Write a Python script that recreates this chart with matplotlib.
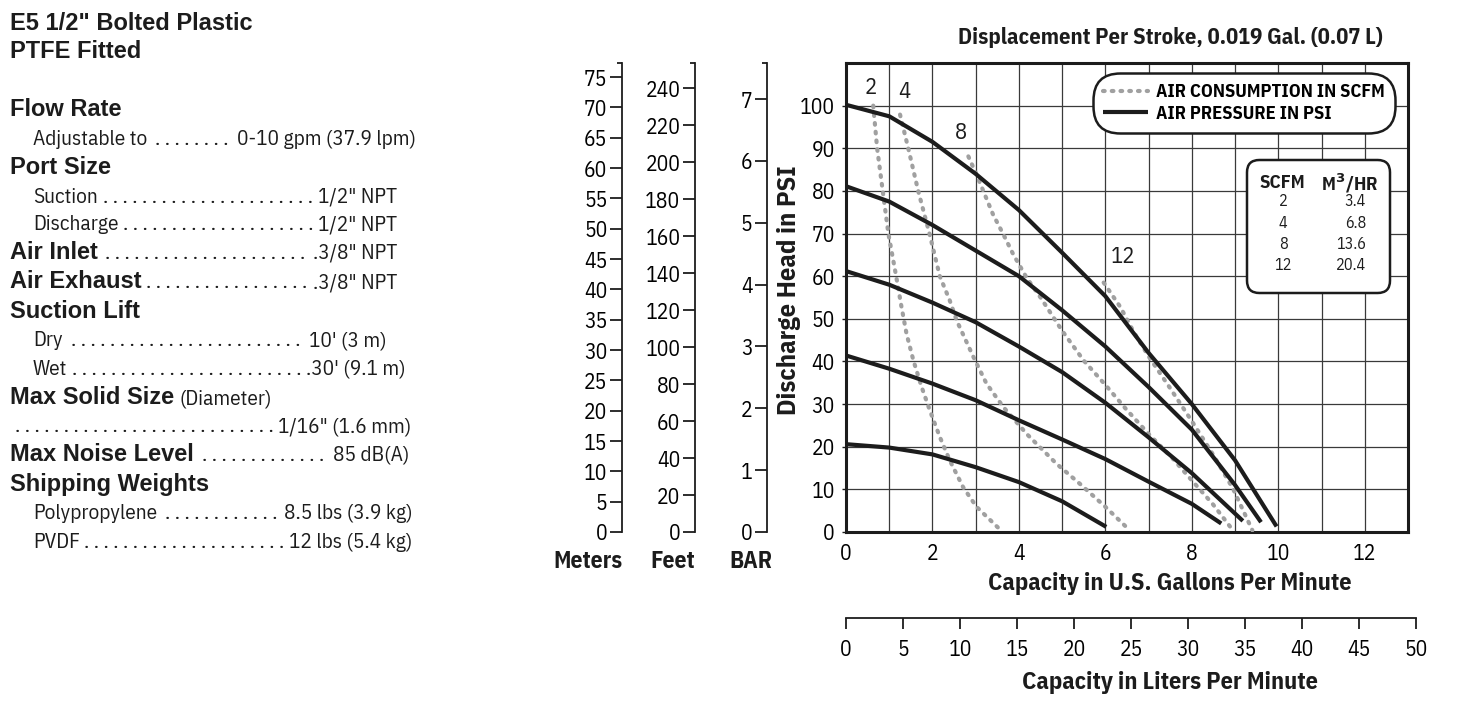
import matplotlib
matplotlib.use("Agg")
import matplotlib.pyplot as plt
from matplotlib import font_manager
from matplotlib.font_manager import FontProperties
from matplotlib.patches import FancyBboxPatch

# ---------------------------------------------------------- #
#  Data                              #
# ---------------------------------------------------------- #
# air pressure curves (solid): capacity in gpm vs discharge head in psi
GPM_100PSI = [0, 1, 2, 3, 4, 5, 6, 7, 8, 9, 9.96]
HEAD_100PSI = [100.2, 97.5, 91.5, 84, 75.5, 65.5, 55.3, 42, 30, 16.8, 1.3]
GPM_80PSI = [0, 1, 2, 3, 4, 5, 6, 7, 8, 9, 9.6]
HEAD_80PSI = [81.1, 77.5, 72, 66, 60, 52, 43.5, 34, 24, 11, 2.3]
GPM_60PSI = [0, 1, 2, 3, 4, 5, 6, 7, 8, 9.18]
HEAD_60PSI = [61.2, 58, 53.8, 49.2, 43.5, 37.5, 30.3, 22.2, 13.8, 2.6]
GPM_40PSI = [0, 1, 2, 3, 4, 5, 6, 7, 8, 8.68]
HEAD_40PSI = [41.4, 38.3, 34.8, 30.9, 26.2, 21.7, 17.1, 11.8, 6.6, 2.0]
GPM_20PSI = [0, 1, 2, 3, 4, 5, 6.02]
HEAD_20PSI = [20.6, 19.8, 18.2, 15.2, 11.7, 7.2, 1.2]

# air consumption curves (dotted)
GPM_2SCFM = [0.63, 0.72, 0.85, 0.98, 1.16, 1.28, 1.4, 1.56, 1.75, 1.94, 2.17, 2.4, 2.71, 3.02, 3.52]
HEAD_2SCFM = [100, 90, 80, 70, 60, 53, 46.5, 40.2, 34, 28.5, 22.3, 16.8, 10.5, 5.9, 1.0]
GPM_4SCFM = [1.25, 1.44, 1.67, 1.93, 2.17, 2.4, 2.56, 2.95, 3.25, 3.64, 4.18, 4.87, 5.41, 6.0, 6.48]
HEAD_4SCFM = [97.9, 90, 80, 70, 60, 54.3, 49.6, 41, 34.8, 29.3, 23, 16, 11.3, 5.9, 1.2]
GPM_8SCFM = [2.83, 3.02, 3.4, 3.64, 3.87, 4.18, 4.5, 5, 5.5, 6, 6.48, 7, 7.56, 8, 8.48, 8.95]
HEAD_8SCFM = [88.1, 83.8, 74.5, 69.8, 65.1, 59.6, 55, 47.2, 40.2, 34.5, 28.8, 23, 17.2, 12.1, 6.6, 0.4]
GPM_12SCFM = [5.96, 6.35, 6.65, 7, 7.48, 8, 8.5, 8.95, 9.4]
HEAD_12SCFM = [58.5, 52.7, 47, 41.2, 34, 26, 18, 10.2, 0.4]

PRESSURE_CURVES = [(GPM_100PSI, HEAD_100PSI), (GPM_80PSI, HEAD_80PSI), (GPM_60PSI, HEAD_60PSI),
                   (GPM_40PSI, HEAD_40PSI), (GPM_20PSI, HEAD_20PSI)]
AIR_CURVES = [(GPM_2SCFM, HEAD_2SCFM), (GPM_4SCFM, HEAD_4SCFM),
              (GPM_8SCFM, HEAD_8SCFM), (GPM_12SCFM, HEAD_12SCFM)]

# scfm tags on the dotted curves
SCFM_TAGS = ["2", "4", "8", "12"]
TAG_GPM = [0.57, 1.36, 2.65, 6.42]
TAG_HEAD = [104.1, 103.2, 93.6, 64.4]

# conversion table
TABLE_SCFM = ["2", "4", "8", "12"]
TABLE_M3HR = ["3.4", "6.8", "13.6", "20.4"]

# axis ticks
GPM_TICKS = [0, 2, 4, 6, 8, 10, 12]
PSI_TICKS = [0, 10, 20, 30, 40, 50, 60, 70, 80, 90, 100]
LPM_TICKS = [0, 5, 10, 15, 20, 25, 30, 35, 40, 45, 50]
METER_TICKS = [0, 5, 10, 15, 20, 25, 30, 35, 40, 45, 50, 55, 60, 65, 70, 75]
FEET_TICKS = [0, 20, 40, 60, 80, 100, 120, 140, 160, 180, 200, 220, 240]
BAR_TICKS = [0, 1, 2, 3, 4, 5, 6, 7]

PSI_MAX = 110
GPM_MAX = 13
M_PER_PSI = 0.70307
FT_PER_PSI = 2.3067
BAR_PER_PSI = 0.0689476

TITLE_LINES = ['E5 1/2" Bolted Plastic', 'PTFE Fitted']
# (y px, x px, label, label bold, value, value right edge px, dotted leader)
SPEC_LINES = [
    (108, 10, "Flow Rate", True, "", None, False),
    (137, 33, "Adjustable to", False, "0-10 gpm (37.9 lpm)", 416, True),
    (166, 10, "Port Size", True, "", None, False),
    (195, 33, "Suction", False, '1/2" NPT', 397, True),
    (222, 33, "Discharge", False, '1/2" NPT', 397, True),
    (251, 10, "Air Inlet", True, '.3/8" NPT', 397, True),
    (280, 10, "Air Exhaust", True, '.3/8" NPT', 397, True),
    (310, 10, "Suction Lift", True, "", None, False),
    (338, 33, "Dry", False, "10' (3 m)", 386, True),
    (367, 33, "Wet", False, ".30' (9.1 m)", 406, True),
    (396, 10, "Max Solid Size", True, "(Diameter)", None, False),
    (424, 10, "", False, '1/16" (1.6 mm)', 411, True),
    (453, 10, "Max Noise Level", True, "85 dB(A)", 409, True),
    (483, 10, "Shipping Weights", True, "", None, False),
    (511, 33, "Polypropylene", False, "8.5 lbs (3.9 kg)", 413, True),
    (540, 33, "PVDF", False, "12 lbs (5.4 kg)", 412, True),
]

# ---------------------------------------------------------- #
#  Fonts                                                     #
# ---------------------------------------------------------- #
# a narrow sans with a real bold face, first one that is installed
CANDIDATES = ["Liberation Sans Narrow", "IBM Plex Sans Condensed", "PT Sans Narrow",
              "Fira Sans Condensed"]
COND = "Liberation Sans"
for c in CANDIDATES:
    try:
        bld = font_manager.findfont(FontProperties(family=c, weight="bold"), fallback_to_default=False)
    except ValueError:
        continue
    if "bold" in bld.lower():
        COND = c
        break
CONDF = [COND, "DejaVu Sans"]
WIDE = ["Liberation Sans", "DejaVu Sans"]
plt.rcParams["font.family"] = CONDF

W, H = 1463, 706
INK = "#1c1c1c"
DOT = "#a0a0a0"


def fx(px):
    return px / W


def fy(py):
    return 1 - py / H


fig = plt.figure(figsize=(W / 100, H / 100), dpi=100)
fig.patch.set_facecolor("white")
renderer = fig.canvas.get_renderer()


def fit_size(text, target_px, weight="normal", family=None):
    """font size that makes text about target_px wide"""
    t = fig.text(0, 0, text, fontsize=10, fontweight=weight, family=family or CONDF)
    w = t.get_window_extent(renderer).width
    t.remove()
    return 10 * target_px / w


TICK = fit_size("100", 35)
SPEC = fit_size("Adjustable to", 114)
LABEL = fit_size("Capacity in U.S. Gallons Per Minute", 364, "bold")

# ---------------------------------------------------------- #
#  Main chart                                                #
# ---------------------------------------------------------- #
AX_L, AX_R, AX_T, AX_B = 846, 1408, 63, 532
ax = fig.add_axes([fx(AX_L), fy(AX_B), (AX_R - AX_L) / W, (AX_B - AX_T) / H])
ax.set_xlim(0, GPM_MAX)
ax.set_ylim(0, PSI_MAX)
ax.set_xticks(GPM_TICKS)
ax.set_xticks(range(0, GPM_MAX + 1), minor=True)
ax.set_yticks(PSI_TICKS)
ax.grid(True, which="both", color="#3a3a3a", linewidth=0.9)
ax.set_axisbelow(True)
ax.tick_params(axis="x", which="both", length=0, pad=8, labelsize=TICK)
ax.tick_params(axis="y", length=3, width=1, pad=5, labelsize=TICK, color=INK)
for s in ax.spines.values():
    s.set_linewidth(2.2)
    s.set_color(INK)

for gpm, head in PRESSURE_CURVES:
    solid, = ax.plot(gpm, head, color=INK, linewidth=3.0, solid_capstyle="butt",
                     solid_joinstyle="round", zorder=4)
for gpm, head in AIR_CURVES:
    dotted, = ax.plot(gpm, head, color=DOT, linewidth=3.0, linestyle=(0, (0.4, 1.7)),
                      dash_capstyle="round", zorder=3)

for tag, g, h in zip(SCFM_TAGS, TAG_GPM, TAG_HEAD):
    ax.text(g, h, tag, ha="center", va="center", fontsize=TICK * 1.05, color=INK, zorder=5)

ax.set_xlabel("Capacity in U.S. Gallons Per Minute", fontsize=LABEL, fontweight="bold", color=INK)
ax.xaxis.set_label_coords((1170 - AX_L) / (AX_R - AX_L), -(572 - AX_B) / (AX_B - AX_T))
ax.set_ylabel("Discharge Head in PSI", fontsize=fit_size("Discharge Head in PSI", 250, "bold"),
              fontweight="bold", color=INK)
ax.yaxis.set_label_coords(-(AX_L - 801) / (AX_R - AX_L), (AX_B - 290) / (AX_B - AX_T))

LEG = fit_size("AIR CONSUMPTION IN SCFM", 230, "bold")
leg = ax.legend([dotted, solid], ["AIR CONSUMPTION IN SCFM", "AIR PRESSURE IN PSI"],
                loc="upper right", bbox_to_anchor=((1395 - AX_L) / (AX_R - AX_L), (AX_B - 73) / (AX_B - AX_T)),
                borderaxespad=0, borderpad=0.55, labelspacing=0.2, handlelength=2.4, handletextpad=0.45,
                prop={"family": CONDF, "weight": "bold", "size": LEG},
                framealpha=1, fancybox=True)
leg.get_frame().set_boxstyle("round,pad=0,rounding_size=1.45")
leg.get_frame().set_edgecolor(INK)
leg.get_frame().set_linewidth(1.8)
leg.set_zorder(6)

# scfm -> m3/hr table
axw, axh = AX_R - AX_L, AX_B - AX_T
tx0, tx1, ty0, ty1 = 1247, 1390, 160, 293
box = FancyBboxPatch(((tx0 - AX_L) / axw, (AX_B - ty1) / axh), (tx1 - tx0) / axw, (ty1 - ty0) / axh,
                     boxstyle="round,pad=0,rounding_size=0.022", mutation_aspect=axw / axh,
                     transform=ax.transAxes, facecolor="white", edgecolor=INK, linewidth=1.8, zorder=6)
ax.add_patch(box)
HEAD_FS = fit_size("SCFM", 46, "bold")
CELL_FS = fit_size("20.4", 30)
ax.text((1282 - AX_L) / axw, (AX_B - 183) / axh, "SCFM", transform=ax.transAxes, ha="center",
        va="center", fontsize=HEAD_FS, fontweight="bold", color=INK, zorder=7)
ax.text((1350 - AX_L) / axw, (AX_B - 183) / axh, "M$^{\\mathbf{3}}$/HR", transform=ax.transAxes,
        ha="center", va="center", fontsize=HEAD_FS, fontweight="bold", color=INK, zorder=7)
for i, (s, m) in enumerate(zip(TABLE_SCFM, TABLE_M3HR)):
    yy = (AX_B - (201 + i * 21.5)) / axh
    ax.text((1283 - AX_L) / axw, yy, s, transform=ax.transAxes, ha="center", va="center",
            fontsize=CELL_FS, color=INK, zorder=7)
    ax.text((1366 - AX_L) / axw, yy, m, transform=ax.transAxes, ha="right", va="center",
            fontsize=CELL_FS, color=INK, zorder=7)

title = "Displacement Per Stroke, 0.019 Gal. (0.07 L)"
fig.text(fx(1170), fy(38), title, ha="center", va="center",
         fontsize=fit_size(title, 425, "bold"), fontweight="bold", color=INK)

# ---------------------------------------------------------- #
#  Liters per minute scale                                   #
# ---------------------------------------------------------- #
axl = fig.add_axes([fx(AX_L), fy(618), (1416 - AX_L) / W, 0.0001])
axl.set_xlim(0, 50)
axl.set_xticks(LPM_TICKS)
axl.set_yticks([])
for s in ["top", "left", "right"]:
    axl.spines[s].set_visible(False)
axl.spines["bottom"].set_linewidth(1.3)
axl.spines["bottom"].set_color(INK)
axl.tick_params(axis="x", direction="out", length=8, width=1.3, pad=7, labelsize=TICK, color=INK)
axl.patch.set_visible(False)
lpm_label = "Capacity in Liters Per Minute"
fig.text(fx(1170), fy(682), lpm_label, ha="center", va="center",
         fontsize=fit_size(lpm_label, 296, "bold"), fontweight="bold", color=INK)

# ---------------------------------------------------------- #
#  Meters / Feet / BAR scales                                #
# ---------------------------------------------------------- #
UNIT_FS = fit_size("Meters", 69, "bold")


def unit_axis(x_px, top, ticks, name, name_x):
    a = fig.add_axes([fx(x_px), fy(AX_B), 0.0001, (AX_B - AX_T) / H])
    a.set_ylim(0, top)
    for s in ["top", "bottom", "right"]:
        a.spines[s].set_visible(False)
    a.spines["left"].set_linewidth(1.3)
    a.spines["left"].set_color(INK)
    a.set_xticks([])
    a.set_yticks(ticks)
    a.set_yticks([top], minor=True)
    a.tick_params(axis="y", which="major", direction="out", length=8.5, width=1.3, pad=2,
                  labelsize=TICK, color=INK)
    a.tick_params(axis="y", which="minor", direction="out", length=3.5, width=1.3, color=INK)
    a.patch.set_visible(False)
    fig.text(fx(name_x), fy(561), name, ha="center", va="center", fontsize=UNIT_FS,
             fontweight="bold", color=INK)


unit_axis(622, PSI_MAX * M_PER_PSI, METER_TICKS, "Meters", 588)
unit_axis(695, PSI_MAX * FT_PER_PSI, FEET_TICKS, "Feet", 673)
unit_axis(767, PSI_MAX * BAR_PER_PSI, BAR_TICKS, "BAR", 751)

# ---------------------------------------------------------- #
#  Spec sheet text                                           #
# ---------------------------------------------------------- #
for i, line in enumerate(TITLE_LINES):
    fig.text(fx(10), fy(22 + 28 * i + 8), line, ha="left", va="baseline", family=WIDE,
             fontweight="bold", fontsize=17, color=INK)

dot_probe = fig.text(0, 0, ". . . . . . . . . .", fontsize=SPEC)
dot_w = dot_probe.get_window_extent(renderer).width / 9.5
dot_probe.remove()

for y, x, label, bold, value, right, leader in SPEC_LINES:
    base = fy(y + 8)
    right_edge = x
    if label:
        if bold:
            t = fig.text(fx(x), base, label, ha="left", va="baseline", family=WIDE,
                         fontweight="bold", fontsize=17, color=INK)
        else:
            t = fig.text(fx(x), base, label, ha="left", va="baseline", fontsize=SPEC, color=INK)
        right_edge = t.get_window_extent(renderer).x1
    if not value:
        continue
    if right is None:
        fig.text(fx(right_edge + 5), base, value, ha="left", va="baseline", fontsize=SPEC, color=INK)
        continue
    v = fig.text(fx(right), base, value, ha="right", va="baseline", fontsize=SPEC, color=INK)
    left_edge = v.get_window_extent(renderer).x0
    n = int((left_edge - right_edge - 2) // dot_w)
    if leader and n > 0:
        # dot leader centred in the gap between label and value
        fig.text(fx((left_edge + right_edge) / 2), base, " ".join(["."] * n), ha="center",
                 va="baseline", fontsize=SPEC, color=INK)

fig.savefig("out.png", dpi=100, facecolor="white")
